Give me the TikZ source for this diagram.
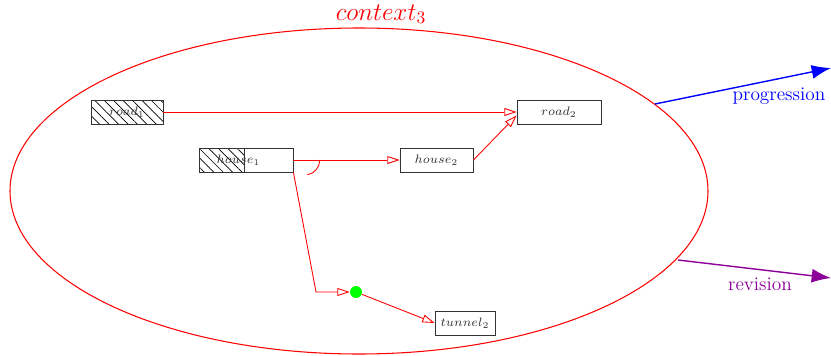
\documentclass[tikz,border=0pt]{standalone}
\usetikzlibrary{arrows.meta,patterns.meta}
\begin{document}
\begin{tikzpicture}[x=0.02cm,y=-0.02cm]
\definecolor{color1}{rgb}{0.55,0,0.6}
\definecolor{color2}{rgb}{0.2,0.2,0.2}
\tikzset{
  obj/.style={draw=color2,line width=0.5pt,minimum height=0.48cm,inner sep=0pt,font=\scriptsize,text=color2},
  hatch/.style={pattern={Lines[angle=-45,distance=3.8pt,line width=0.4pt]}},
  link/.style={red,line width=0.5pt,-{Triangle[open,length=7pt,width=4.5pt]}},
}
\useasboundingbox (0,0) rectangle (831,355);
\coordinate[] (E1) at (359,191);
\coordinate[] (P1) at (655,104);
\coordinate[] (P2) at (831,68);
\coordinate[] (R1) at (678,260);
\coordinate[] (R2) at (831,278);
\coordinate[] (K1) at (316,292);
\draw[red,line width=0.6pt] (E1) ellipse [x radius=349,y radius=163];
\node[red,font=\Large,anchor=base,inner sep=0pt] (ctx) at (381,20) {$context_3$};
\fill[hatch] (91,100) rectangle (163,124);
\fill[hatch] (199,148) rectangle (244,172);
\node[obj,minimum width=1.44cm] (road1) at (127,112) {$road_1$};
\node[obj,minimum width=1.88cm] (house1) at (246,160) {\hspace{-0.3cm}$house_1$};
\draw[color2,line width=0.5pt] (244,148) -- (244,172);
\node[obj,minimum width=1.46cm] (house2) at (436.5,160) {$house_2$};
\node[obj,minimum width=1.68cm] (road2) at (559,112) {$road_2$};
\node[obj,minimum width=1.2cm] (tunnel2) at (465,323) {$tunnel_2$};
\node[circle,fill=green,inner sep=0pt,minimum size=0.24cm] (dot) at (356,292) {};
\draw[link] (road1.east) -- (road2.west);
\draw[link] (house1.east) -- (house2.west);
\draw[link] (house2.east) -- ([yshift=-2pt]road2.west);
\draw[link] (house1.south east) -- (K1) -- (dot.west);
\draw[link] (dot) -- (tunnel2.west);
\draw[red,line width=0.5pt] ([xshift=15]house1.east) arc[start angle=0,end angle=80,radius=15];
\draw[blue,line width=0.8pt,-{Latex[length=11pt,width=8pt]}] (P1) -- (P2);
\node[blue,font=\fontsize{11}{13}\selectfont] (prog) at (779,96) {progression};
\draw[color1,line width=0.8pt,-{Latex[length=11pt,width=8pt]}] (R1) -- (R2);
\node[color1,font=\fontsize{11}{13}\selectfont] (rev) at (760,284) {revision};
\end{tikzpicture}
\end{document}
